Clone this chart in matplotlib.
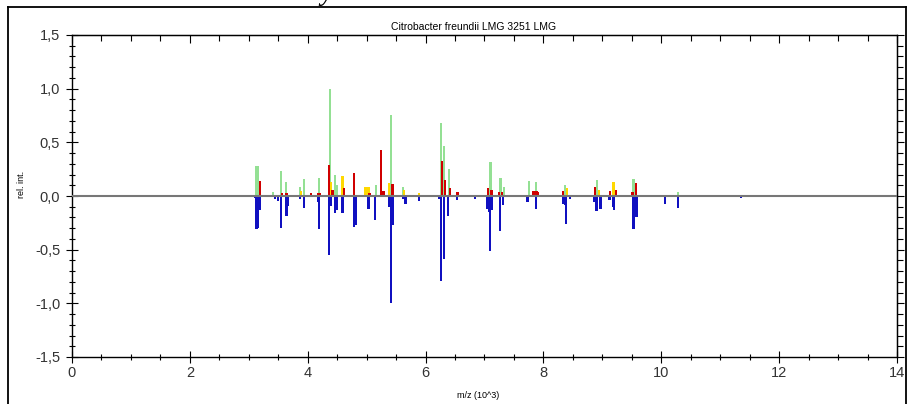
import matplotlib
matplotlib.use("Agg")
import matplotlib.pyplot as plt
from matplotlib.lines import Line2D
from matplotlib.ticker import MultipleLocator, FuncFormatter, NullFormatter

plt.rcParams["font.family"] = ["Liberation Sans Narrow", "Liberation Sans", "DejaVu Sans"]

# Widma: piki próbki (w górę, kolory wg dopasowania) i referencji (w dół)
green_mz = [3.13, 3.16, 3.41, 3.55, 3.63, 3.87, 3.94, 4.19, 4.38, 4.46, 4.49,
            5.16, 5.41, 5.62, 6.26, 6.31, 6.40, 7.10, 7.27, 7.33, 7.75, 7.88,
            8.37, 8.91, 9.53, 10.28]
green_int = [0.28, 0.28, 0.04, 0.23, 0.135, 0.08, 0.16, 0.17, 1.0, 0.2, 0.1,
             0.1, 0.755, 0.08, 0.68, 0.465, 0.25, 0.32, 0.17, 0.08, 0.14, 0.13,
             0.10, 0.145, 0.16, 0.04]

red_mz = [3.19, 3.56, 3.64, 4.06, 4.17, 4.21, 4.36, 4.42, 4.61, 4.79, 5.05,
          5.24, 5.27, 5.30, 5.44, 6.28, 6.33, 6.42, 6.54, 7.06, 7.12, 7.25,
          7.30, 7.83, 7.86, 7.89, 7.91, 8.33, 8.87, 9.13, 9.23, 9.51, 9.57]
red_int = [0.14, 0.03, 0.03, 0.03, 0.03, 0.03, 0.29, 0.06, 0.07, 0.21, 0.03,
           0.43, 0.05, 0.05, 0.11, 0.325, 0.15, 0.07, 0.04, 0.077, 0.06, 0.04,
           0.04, 0.05, 0.05, 0.05, 0.04, 0.05, 0.085, 0.05, 0.06, 0.04, 0.12]

yellow_mz = [3.88, 4.40, 4.59, 4.98, 5.03, 5.38, 5.64, 5.89, 8.40, 8.94, 9.19]
yellow_int = [0.05, 0.13, 0.19, 0.08, 0.08, 0.12, 0.06, 0.03, 0.07, 0.06, 0.13]

blue_mz = [3.10, 3.13, 3.16, 3.19, 3.45, 3.50, 3.55, 3.64, 3.66, 3.87, 3.94,
           4.17, 4.19, 4.36, 4.39, 4.46, 4.49, 4.59, 4.79, 4.81, 5.03, 5.14,
           5.38, 5.41, 5.44, 5.62, 5.66, 5.89, 6.23, 6.26, 6.31, 6.38, 6.53,
           6.84, 7.05, 7.07, 7.09, 7.12, 7.26, 7.32, 7.73, 7.87, 8.33, 8.36,
           8.38, 8.45, 8.86, 8.90, 8.97, 9.12, 9.18, 9.20, 9.53, 9.58, 10.06,
           10.28, 10.35, 11.35, 11.74]
blue_int = [-0.02, -0.31, -0.30, -0.13, -0.03, -0.05, -0.30, -0.19, -0.09, -0.03, -0.11,
            -0.06, -0.31, -0.55, -0.09, -0.16, -0.13, -0.16, -0.29, -0.27, -0.12, -0.22,
            -0.10, -1.00, -0.27, -0.03, -0.07, -0.05, -0.03, -0.79, -0.59, -0.19, -0.04,
            -0.03, -0.12, -0.15, -0.51, -0.13, -0.33, -0.08, -0.06, -0.125, -0.07, -0.08,
            -0.26, -0.03, -0.06, -0.14, -0.12, -0.04, -0.10, -0.13, -0.31, -0.20, -0.07,
            -0.11, -0.01, -0.02, -0.01]

W, H = 909, 404
fig = plt.figure(figsize=(W / 100, H / 100), dpi=100)
ax = fig.add_axes([72 / W, 1 - 357 / H, (897 - 72) / W, (357 - 35) / H])

bw = 0.038
ax.bar(green_mz, green_int, width=bw, color="#94e094", linewidth=0, zorder=2)
ax.bar(yellow_mz, yellow_int, width=bw, color="#ffd800", linewidth=0, zorder=3)
ax.bar(red_mz, red_int, width=bw, color="#d00000", linewidth=0, zorder=4)
ax.bar(blue_mz, blue_int, width=bw, color="#1010c0", linewidth=0, zorder=2)
ax.axhline(0, color="#777777", linewidth=1.5, zorder=5)

ax.set_xlim(0, 14)
ax.set_ylim(-1.5, 1.5)
ax.xaxis.set_major_locator(MultipleLocator(2))
ax.xaxis.set_minor_locator(MultipleLocator(0.5))
ax.yaxis.set_major_locator(MultipleLocator(0.5))
ax.yaxis.set_minor_locator(MultipleLocator(0.1))
ax.yaxis.set_major_formatter(FuncFormatter(lambda v, p: f"{v:.1f}".replace(".", ",")))

ax.tick_params(which="both", color="black", width=0.8,
               labelsize=10.5, labelcolor="#333333")
ax.tick_params(axis="x", which="major", direction="inout", length=9, pad=2)
ax.tick_params(axis="x", which="minor", direction="inout", length=5)
ax.tick_params(axis="y", which="major", direction="inout", length=9, pad=4)
ax.tick_params(axis="y", which="minor", direction="inout", length=5)
for s in ax.spines.values():
    s.set_linewidth(1.0)

# górna oś: kreski do środka, prawa: na zewnątrz
top = ax.secondary_xaxis("top")
top.xaxis.set_major_locator(MultipleLocator(2))
top.xaxis.set_minor_locator(MultipleLocator(0.5))
top.xaxis.set_major_formatter(NullFormatter())
top.tick_params(which="major", direction="in", length=6, width=0.8)
top.tick_params(which="minor", direction="in", length=4, width=0.8)

right = ax.secondary_yaxis("right")
right.yaxis.set_major_locator(MultipleLocator(0.5))
right.yaxis.set_minor_locator(MultipleLocator(0.1))
right.yaxis.set_major_formatter(NullFormatter())
right.tick_params(which="major", direction="out", length=5, width=0.8)
right.tick_params(which="minor", direction="out", length=4, width=0.8)

fig.text(474 / W, 1 - 27 / H, "Citrobacter freundii LMG 3251 LMG",
         ha="center", va="center", fontsize=7.5, family=["Liberation Sans", "DejaVu Sans"])
fig.text(478 / W, 1 - 395 / H, "m/z (10^3)", ha="center", va="center", fontsize=6.5,
         family=["Liberation Sans", "DejaVu Sans"])
fig.text(22 / W, 1 - 184 / H, "rel. int.", ha="center", va="center", rotation=90,
         fontsize=6.5, family=["Liberation Sans", "DejaVu Sans"])

# ramka wokół wykresu
lw = 1.3
fig.add_artist(Line2D([8 / W, 8 / W], [0, 1 - 7 / H], color="black", linewidth=lw))
fig.add_artist(Line2D([906 / W, 906 / W], [0, 1 - 7 / H], color="black", linewidth=lw))
fig.add_artist(Line2D([8 / W, 906 / W], [1 - 7 / H, 1 - 7 / H], color="black", linewidth=lw))

# fragment litery z tekstu powyżej
fig.text(327 / W, 1.0, "y", ha="center", va="baseline", fontsize=20, style="italic",
         family=["Liberation Serif", "DejaVu Serif"])

fig.savefig("out.png", dpi=100)
